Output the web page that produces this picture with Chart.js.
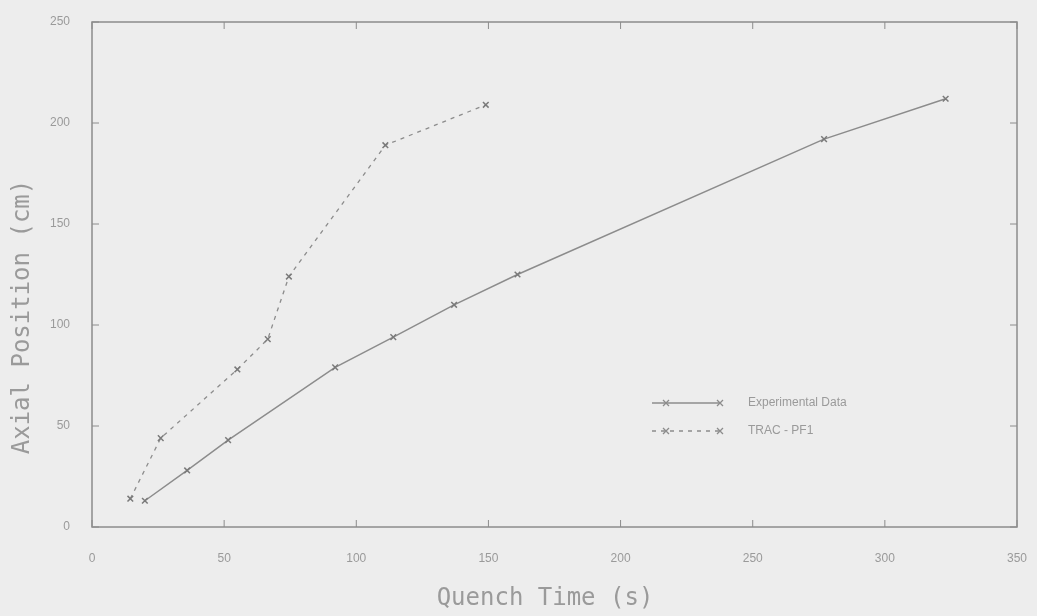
<!DOCTYPE html>
<html lang="en">
<head>
    <meta charset="UTF-8">
    <title>Quench front</title>
    <script src="https://cdn.jsdelivr.net/npm/chart.js"></script>
    <style>
        html, body { margin: 0; padding: 0; background: #ededed; }
        #wrap { width: 1037px; height: 616px; }
    </style>
</head>
<body>
    <div id="wrap"><canvas id="myChart"></canvas></div>
    <script>
        // data
        const expTime = [20, 36, 51.5, 92, 114, 137, 161, 277, 323];
        const expPos = [13, 28, 43, 79, 94, 110, 125, 192, 212];
        const tracTime = [14.5, 26, 55, 66.5, 74.5, 111, 149];
        const tracPos = [14, 44, 78, 93, 124, 189, 209];
        const xTicks = [0, 50, 100, 150, 200, 250, 300, 350];
        const yTicks = [0, 50, 100, 150, 200, 250];

        const ink = '#8c8c8c';
        const textInk = '#9a9a9a';

        function toPoints(xs, ys) {
            return xs.map((x, i) => ({x: x, y: ys[i]}));
        }

        // frame, inward ticks, axis titles, legend
        const decor = {
            id: 'decor',
            afterDraw(chart) {
                const ctx = chart.ctx;
                const a = chart.chartArea;
                const sx = chart.scales.x, sy = chart.scales.y;
                ctx.save();
                ctx.strokeStyle = ink;
                ctx.lineWidth = 1.5;
                ctx.strokeRect(a.left, a.top, a.right - a.left, a.bottom - a.top);
                ctx.lineWidth = 1;
                xTicks.forEach(v => {
                    const px = sx.getPixelForValue(v);
                    ctx.beginPath();
                    ctx.moveTo(px, a.bottom); ctx.lineTo(px, a.bottom - 7);
                    ctx.moveTo(px, a.top); ctx.lineTo(px, a.top + 7);
                    ctx.stroke();
                });
                yTicks.forEach(v => {
                    const py = sy.getPixelForValue(v);
                    ctx.beginPath();
                    ctx.moveTo(a.left, py); ctx.lineTo(a.left + 7, py);
                    ctx.moveTo(a.right, py); ctx.lineTo(a.right - 7, py);
                    ctx.stroke();
                });

                // titles
                ctx.fillStyle = textInk;
                ctx.font = '24px "DejaVu Sans Mono"';
                ctx.textAlign = 'center';
                ctx.textBaseline = 'middle';
                ctx.fillText('Quench Time (s)', 545, 599);
                ctx.save();
                ctx.translate(23, 317);
                ctx.rotate(-Math.PI / 2);
                ctx.fillText('Axial Position (cm)', 0, 0);
                ctx.restore();

                // legend
                const items = [
                    {label: 'Experimental Data', dash: [], y: 403},
                    {label: 'TRAC - PF1', dash: [4, 5], y: 431}
                ];
                items.forEach(it => {
                    ctx.strokeStyle = ink;
                    ctx.lineWidth = 1.3;
                    ctx.setLineDash(it.dash);
                    ctx.beginPath();
                    ctx.moveTo(652, it.y); ctx.lineTo(720, it.y);
                    ctx.stroke();
                    ctx.setLineDash([]);
                    [666, 720].forEach(mx => {
                        ctx.beginPath();
                        ctx.moveTo(mx - 3, it.y - 3); ctx.lineTo(mx + 3, it.y + 3);
                        ctx.moveTo(mx - 3, it.y + 3); ctx.lineTo(mx + 3, it.y - 3);
                        ctx.stroke();
                    });
                    ctx.fillStyle = textInk;
                    ctx.font = '12px "Liberation Sans"';
                    ctx.textAlign = 'left';
                    ctx.fillText(it.label, 748, it.y);
                });
                ctx.restore();
            }
        };

        const ctx = document.getElementById('myChart').getContext('2d');
        const myChart = new Chart(ctx, {
            type: 'scatter',
            data: {
                datasets: [{
                    label: 'Experimental Data',
                    data: toPoints(expTime, expPos),
                    showLine: true,
                    borderColor: ink,
                    borderWidth: 1.5,
                    pointStyle: 'crossRot',
                    pointRadius: 4,
                    pointBorderWidth: 1.5,
                    pointBorderColor: '#7a7a7a'
                }, {
                    label: 'TRAC - PF1',
                    data: toPoints(tracTime, tracPos),
                    showLine: true,
                    borderColor: ink,
                    borderWidth: 1.3,
                    borderDash: [4, 5],
                    pointStyle: 'crossRot',
                    pointRadius: 4,
                    pointBorderWidth: 1.5,
                    pointBorderColor: '#7a7a7a'
                }]
            },
            options: {
                responsive: true,
                maintainAspectRatio: false,
                animation: false,
                layout: { padding: { left: 0, right: 20, top: 22, bottom: 0 } },
                plugins: {
                    legend: { display: false },
                    tooltip: { enabled: false }
                },
                scales: {
                    x: {
                        type: 'linear',
                        min: 0,
                        max: 350,
                        afterBuildTicks: s => { s.ticks = xTicks.map(v => ({value: v})); },
                        afterFit: s => { s.height = 89; s.paddingLeft = 0; s.paddingRight = 0; },
                        grid: { display: false, drawTicks: false },
                        border: { display: false },
                        ticks: { color: textInk, padding: 24, font: { size: 12, family: 'Liberation Sans' } }
                    },
                    y: {
                        min: 0,
                        max: 250,
                        afterBuildTicks: s => { s.ticks = yTicks.map(v => ({value: v})); },
                        afterFit: s => { s.width = 92; s.paddingTop = 0; s.paddingBottom = 0; },
                        grid: { display: false, drawTicks: false },
                        border: { display: false },
                        ticks: { color: textInk, padding: 22, font: { size: 12, family: 'Liberation Sans' } }
                    }
                }
            },
            plugins: [decor]
        });
    </script>
</body>
</html>
